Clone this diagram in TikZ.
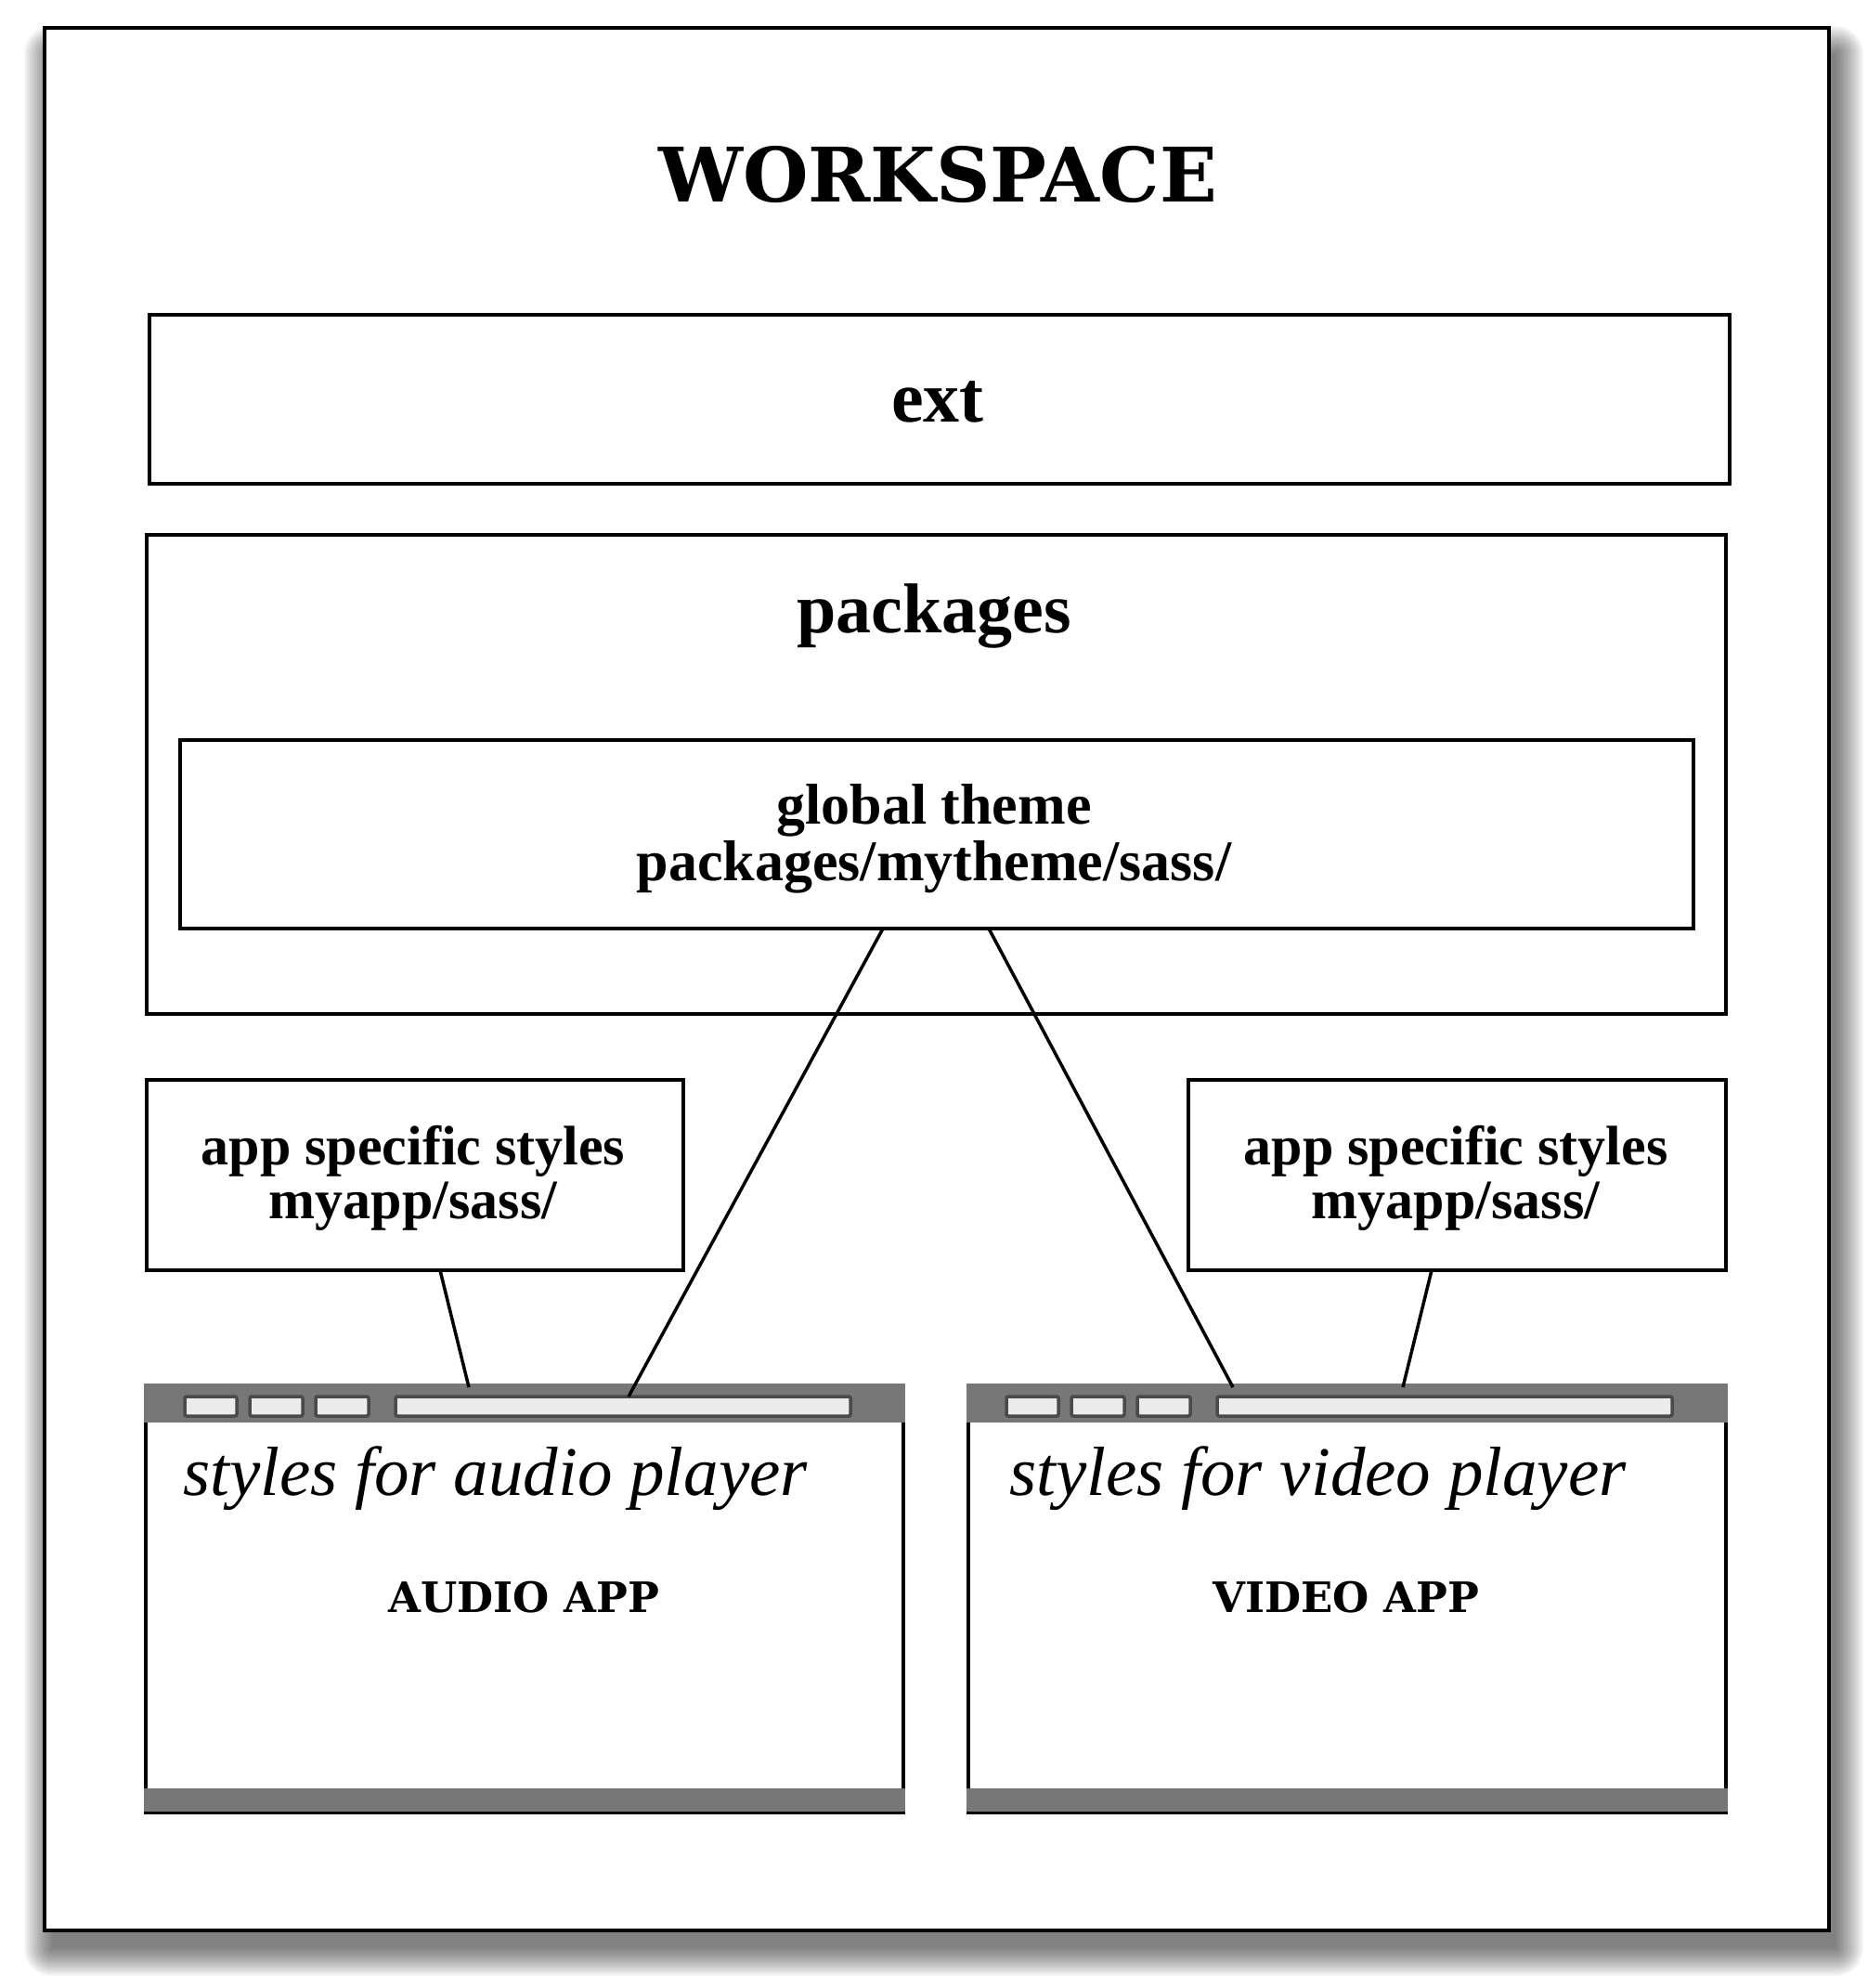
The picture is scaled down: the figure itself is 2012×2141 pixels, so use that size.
\documentclass[tikz,border=0pt]{standalone}
\usepackage{fontspec}
\setmainfont{Liberation Serif}
\newfontfamily\headfont{DejaVu Serif}
\usetikzlibrary{calc}
\definecolor{bargray}{HTML}{777777}
\definecolor{btnfill}{HTML}{EBEBEB}
\definecolor{btnedge}{HTML}{4A4A4A}
\begin{document}
\begin{tikzpicture}[x=1pt,y=-1pt,
  box/.style={draw=black,line width=3.5pt,fill=white,inner sep=0pt,outer sep=0pt},
  label/.style={font=\bfseries,align=center,inner sep=0pt},
  link/.style={line width=3.5pt},
  btn/.style={fill=btnfill,draw=btnedge,line width=3.5pt,rounded corners=2pt}]
\useasboundingbox (0,0) rectangle (2012,2141);
\fill[white] (0,0) rectangle (2012,2141);

% soft drop shadow of the workspace frame, cast down and to the right
\foreach \r in {0,2,...,30}
  \fill[black,opacity=0.04,rounded corners=\r pt] (56-\r,58-\r) rectangle (1977+\r,2098+\r);

% workspace frame
\node[box,line width=4.5pt,minimum width=1922pt,minimum height=2049pt] (ws) at (1009,1054.5) {};
\node[font=\headfont\bfseries\fontsize{81}{81}\selectfont,inner sep=0pt] (wstitle) at (1010,188) {WORKSPACE};

% ext
\node[box,minimum width=1702pt,minimum height=182pt] (ext) at (1012,430) {};
\node[label,font=\bfseries\fontsize{78}{78}\selectfont] (extlbl) at (1010,433) {ext};

% packages
\node[box,minimum width=1701pt,minimum height=516pt] (pkg) at (1008.5,834) {};
\node[label,font=\bfseries\fontsize{76}{76}\selectfont] (pkglbl) at (1006,664) {packages};
\node[box,minimum width=1630pt,minimum height=203pt] (global) at (1009,898.5) {};
\node[label,font=\bfseries\fontsize{62}{61}\selectfont] (globallbl) at (1006,903) {global theme\\packages/mytheme/sass/};

% app specific styles
\node[box,minimum width=578pt,minimum height=205pt] (appL) at (447,1265.5) {};
\node[label,font=\bfseries\fontsize{60}{58}\selectfont] (appLlbl) at (445,1269) {app specific styles\\myapp/sass/};
\node[box,minimum width=579pt,minimum height=205pt] (appR) at (1569.5,1265.5) {};
\node[label,font=\bfseries\fontsize{60}{58}\selectfont] (appRlbl) at (1568,1269) {app specific styles\\myapp/sass/};

% connectors
\coordinate (g1) at ($(global.south)+(-58,0)$);
\coordinate (g2) at ($(global.south)+(56,0)$);
\coordinate (a1) at ($(appL.south)+(27,0)$);
\coordinate (a2) at ($(appR.south)+(-27.5,0)$);
\coordinate (aud1) at (505,1494);
\coordinate (aud2) at (677,1504);
\coordinate (vid1) at (1328,1494);
\coordinate (vid2) at (1511,1494);

% browser windows
\foreach \w/\cx/\b in {audio/565/199, video/1451/1084} {
  \node[box,minimum width=816pt,minimum height=460pt] (\w) at (\cx,1722) {};
  \fill[bargray] ($(\w.north west)+(-1.75,-1.75)$) rectangle ($(\w.north east)+(1.75,40)$);
  \fill[bargray] ($(\w.south west)+(-1.75,-26)$) rectangle ($(\w.south east)+(1.75,-1)$);
  \draw[btn] (\b,1504) rectangle ++(56,21);
  \draw[btn] (\b+70,1504) rectangle ++(57,21);
  \draw[btn] (\b+141,1504) rectangle ++(57,21);
  \draw[btn] (\b+227,1504) rectangle ++(490,21);
}
\draw[link] (g1) -- (aud2);
\draw[link] (g2) -- (vid1);
\draw[link] (a1) -- (aud1);
\draw[link] (a2) -- (vid2);

\node[anchor=base west,inner sep=0pt,font=\itshape\fontsize{75}{75}\selectfont] (audtxt) at (197,1610) {styles for audio player};
\node[anchor=base west,inner sep=0pt,font=\itshape\fontsize{75}{75}\selectfont] (vidtxt) at (1087,1610) {styles for video player};
\node[font=\headfont\bfseries\fontsize{45}{45}\selectfont,inner sep=0pt] (audlbl) at (564,1720) {AUDIO APP};
\node[font=\headfont\bfseries\fontsize{45}{45}\selectfont,inner sep=0pt] (vidlbl) at (1450,1720) {VIDEO APP};
\end{tikzpicture}
\end{document}
